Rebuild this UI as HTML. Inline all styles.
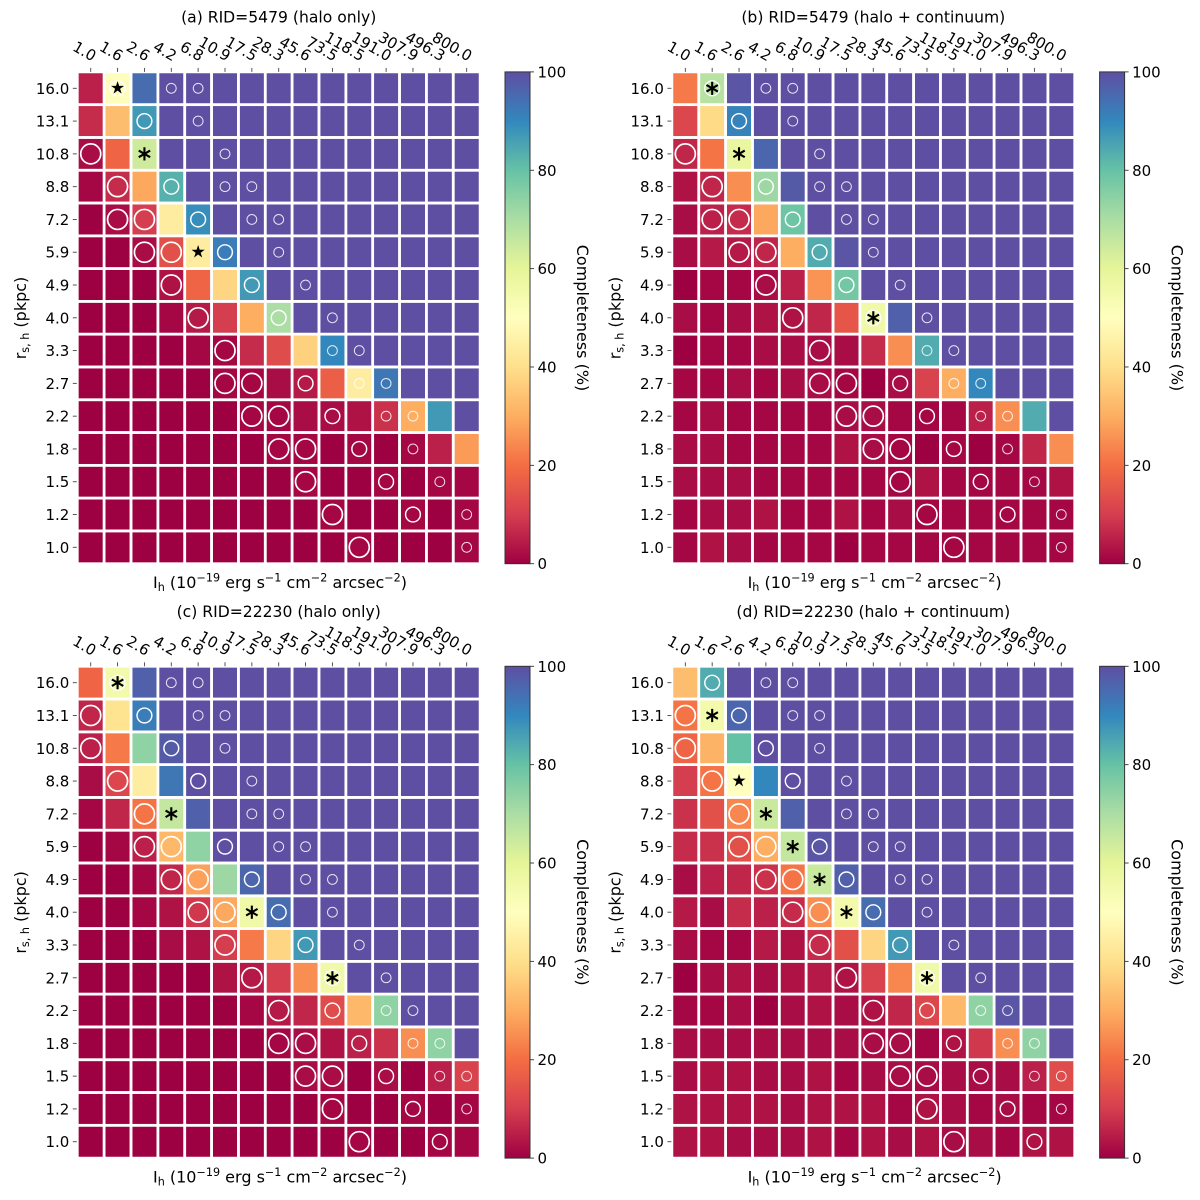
<!DOCTYPE html>
<html lang="en">
<head>
<meta charset="utf-8">
<title>Completeness heatmaps</title>
<style>
html,body{margin:0;padding:0;background:#fff;}
svg{display:block;filter:blur(0.35px);}
text{font-family:"DejaVu Sans","Liberation Sans",sans-serif;fill:#000;}
.tick{font-size:15px;}
.title{font-size:15.6px;text-anchor:middle;}
.axis{font-size:16px;}
</style>
</head>
<body>
<svg id="figure" xmlns="http://www.w3.org/2000/svg" width="1200" height="1200" viewBox="0 0 1200 1200">
  <defs>
    <linearGradient id="spectral-gradient" x1="0" y1="1" x2="0" y2="0"></linearGradient>
  </defs>
  <rect x="0" y="0" width="1200" height="1200" fill="#fff"/>

  <g id="panel-a" transform="translate(0,0)">
    <text class="title" x="278.7" y="22.5">(a) RID=5479 (halo only)</text>
    <text class="axis" x="280" y="588" text-anchor="middle">I<tspan font-size="11.2" dy="3">h</tspan><tspan dy="-3"> (10</tspan><tspan font-size="11.2" dy="-6.5">−19</tspan><tspan dy="6.5"> erg s</tspan><tspan font-size="11.2" dy="-6.5">−1</tspan><tspan dy="6.5"> cm</tspan><tspan font-size="11.2" dy="-6.5">−2</tspan><tspan dy="6.5"> arcsec</tspan><tspan font-size="11.2" dy="-6.5">−2</tspan><tspan dy="6.5">)</tspan></text>
    <text class="axis" transform="translate(26,318) rotate(-90)" text-anchor="middle">r<tspan font-size="11.2" dy="3">s, h</tspan><tspan dy="-3"> (pkpc)</tspan></text>
    <text class="axis" transform="translate(577,318) rotate(90)" text-anchor="middle">Completeness (%)</text>
  </g>

  <g id="panel-b" transform="translate(594.6,0)">
    <text class="title" x="278.7" y="22.5">(b) RID=5479 (halo + continuum)</text>
    <text class="axis" x="280" y="588" text-anchor="middle">I<tspan font-size="11.2" dy="3">h</tspan><tspan dy="-3"> (10</tspan><tspan font-size="11.2" dy="-6.5">−19</tspan><tspan dy="6.5"> erg s</tspan><tspan font-size="11.2" dy="-6.5">−1</tspan><tspan dy="6.5"> cm</tspan><tspan font-size="11.2" dy="-6.5">−2</tspan><tspan dy="6.5"> arcsec</tspan><tspan font-size="11.2" dy="-6.5">−2</tspan><tspan dy="6.5">)</tspan></text>
    <text class="axis" transform="translate(26,318) rotate(-90)" text-anchor="middle">r<tspan font-size="11.2" dy="3">s, h</tspan><tspan dy="-3"> (pkpc)</tspan></text>
    <text class="axis" transform="translate(577,318) rotate(90)" text-anchor="middle">Completeness (%)</text>
  </g>

  <g id="panel-c" transform="translate(0,594.4)">
    <text class="title" x="278.7" y="22.5">(c) RID=22230 (halo only)</text>
    <text class="axis" x="280" y="588" text-anchor="middle">I<tspan font-size="11.2" dy="3">h</tspan><tspan dy="-3"> (10</tspan><tspan font-size="11.2" dy="-6.5">−19</tspan><tspan dy="6.5"> erg s</tspan><tspan font-size="11.2" dy="-6.5">−1</tspan><tspan dy="6.5"> cm</tspan><tspan font-size="11.2" dy="-6.5">−2</tspan><tspan dy="6.5"> arcsec</tspan><tspan font-size="11.2" dy="-6.5">−2</tspan><tspan dy="6.5">)</tspan></text>
    <text class="axis" transform="translate(26,318) rotate(-90)" text-anchor="middle">r<tspan font-size="11.2" dy="3">s, h</tspan><tspan dy="-3"> (pkpc)</tspan></text>
    <text class="axis" transform="translate(577,318) rotate(90)" text-anchor="middle">Completeness (%)</text>
  </g>

  <g id="panel-d" transform="translate(594.6,594.4)">
    <text class="title" x="278.7" y="22.5">(d) RID=22230 (halo + continuum)</text>
    <text class="axis" x="280" y="588" text-anchor="middle">I<tspan font-size="11.2" dy="3">h</tspan><tspan dy="-3"> (10</tspan><tspan font-size="11.2" dy="-6.5">−19</tspan><tspan dy="6.5"> erg s</tspan><tspan font-size="11.2" dy="-6.5">−1</tspan><tspan dy="6.5"> cm</tspan><tspan font-size="11.2" dy="-6.5">−2</tspan><tspan dy="6.5"> arcsec</tspan><tspan font-size="11.2" dy="-6.5">−2</tspan><tspan dy="6.5">)</tspan></text>
    <text class="axis" transform="translate(26,318) rotate(-90)" text-anchor="middle">r<tspan font-size="11.2" dy="3">s, h</tspan><tspan dy="-3"> (pkpc)</tspan></text>
    <text class="axis" transform="translate(577,318) rotate(90)" text-anchor="middle">Completeness (%)</text>
  </g>
</svg>

<script>
const fluxLabels = ['1.0','1.6','2.6','4.2','6.8','10.9','17.5','28.3','45.6','73.5','118.5','191.0','307.9','496.3','800.0'];
const radiusLabels = ['16.0','13.1','10.8','8.8','7.2','5.9','4.9','4.0','3.3','2.7','2.2','1.8','1.5','1.2','1.0'];
const colorbarTicks = [0,20,40,60,80,100];
const spectralStops = ['#9e0142','#d53e4f','#f46d43','#fdae61','#fee08b','#ffffbf','#e6f598','#abdda4','#66c2a5','#3288bd','#5e4fa2'];

const completenessA = [
  [5,51,95,100,100,100,100,100,100,100,100,100,100,100,100],
  [7,33,87,100,100,100,100,100,100,100,100,100,100,100,100],
  [2,18,64,100,100,100,100,100,100,100,100,100,100,100,100],
  [1,7,29,83,100,100,100,100,100,100,100,100,100,100,100],
  [0,2,10,44,89,100,100,100,100,100,100,100,100,100,100],
  [0,0,2,14,44,92,100,100,100,100,100,100,100,100,100],
  [0,0,0,3,18,38,87,100,100,100,100,100,100,100,100],
  [0,0,0,1,4,10,30,70,100,100,100,100,100,100,100],
  [0,0,0,0,1,1,7,13,37,90,100,100,100,100,100],
  [0,0,0,0,0,1,1,2,4,17,44,93,100,100,100],
  [0,0,0,0,0,0,1,1,2,2,3,8,30,87,100],
  [0,0,0,0,0,0,0,1,1,0,1,0,1,5,27],
  [0,0,0,0,0,0,0,0,1,0,0,1,0,1,1],
  [0,0,0,0,0,0,0,0,0,1,0,0,1,0,1],
  [0,0,0,0,0,0,0,0,0,0,1,0,0,0,1]
];
const completenessB = [
  [22,68,99,100,100,100,100,100,100,100,100,100,100,100,100],
  [12,39,91,100,100,100,100,100,100,100,100,100,100,100,100],
  [6,21,58,96,100,100,100,100,100,100,100,100,100,100,100],
  [3,6,25,72,98,100,100,100,100,100,100,100,100,100,100],
  [2,5,7,29,79,100,100,100,100,100,100,100,100,100,100],
  [2,4,4,6,30,84,99,100,100,100,100,100,100,100,100],
  [0,1,1,2,5,26,78,100,100,100,100,100,100,100,100],
  [2,1,2,3,3,6,15,56,97,100,100,100,100,100,100],
  [0,1,1,2,2,2,2,7,25,84,100,100,100,100,100],
  [1,1,2,1,2,2,1,0,2,11,30,90,100,100,100],
  [1,2,1,1,1,1,2,2,1,1,1,5,25,84,100],
  [2,2,1,1,1,1,3,2,1,0,1,0,1,6,25],
  [2,2,2,1,1,1,1,1,1,3,1,1,1,1,3],
  [1,2,2,3,1,1,3,1,2,1,1,1,1,1,1],
  [1,3,2,1,1,1,0,1,1,1,1,1,1,1,1]
];
const completenessC = [
  [18,55,97,100,100,100,100,100,100,100,100,100,100,100,100],
  [6,41,92,100,100,100,100,100,100,100,100,100,100,100,100],
  [5,22,74,98,100,100,100,100,100,100,100,100,100,100,100],
  [2,12,44,93,100,100,100,100,100,100,100,100,100,100,100],
  [1,6,21,66,97,100,100,100,100,100,100,100,100,100,100],
  [0,1,5,32,74,100,100,100,100,100,100,100,100,100,100],
  [0,0,1,6,28,72,96,100,100,100,100,100,100,100,100],
  [0,0,1,3,9,29,56,95,100,100,100,100,100,100,100],
  [0,0,0,2,3,10,22,38,87,100,100,100,100,100,100],
  [0,0,0,0,0,3,4,10,25,56,100,100,100,100,100],
  [0,0,0,0,0,0,1,4,6,13,32,74,100,100,100],
  [0,0,0,0,0,0,0,1,2,3,5,8,25,74,100],
  [0,0,0,0,0,0,0,0,2,2,0,2,0,5,11],
  [0,0,0,0,0,0,0,0,0,1,0,0,1,0,1],
  [0,0,0,0,0,0,0,0,0,0,1,0,0,1,1]
];
const completenessD = [
  [33,84,100,100,100,100,100,100,100,100,100,100,100,100,100],
  [21,55,96,100,100,100,100,100,100,100,100,100,100,100,100],
  [18,31,80,100,100,100,100,100,100,100,100,100,100,100,100],
  [10,21,50,90,100,100,100,100,100,100,100,100,100,100,100],
  [8,14,24,65,97,100,100,100,100,100,100,100,100,100,100],
  [7,8,14,30,66,99,100,100,100,100,100,100,100,100,100],
  [2,5,6,8,21,65,97,100,100,100,100,100,100,100,100],
  [4,2,7,5,7,25,55,95,100,100,100,100,100,100,100],
  [2,1,1,4,3,7,14,38,87,100,100,100,100,100,100],
  [0,2,3,2,3,4,3,11,24,56,100,100,100,100,100],
  [1,1,2,0,2,3,2,3,6,12,32,74,99,100,100],
  [2,2,2,2,2,2,2,2,2,1,3,9,25,74,100],
  [2,3,3,2,2,3,1,2,2,2,2,2,2,5,13],
  [3,3,3,3,2,3,3,3,1,3,2,1,2,1,1],
  [3,3,2,2,2,3,1,3,2,3,2,2,1,3,3]
];

/* [row index, column index] pairs on the categorical grid */
const largeRingsAB = [[2,0],[3,1],[4,1],[4,2],[5,2],[5,3],[6,3],[7,4],[8,5],[9,5],[9,6],[10,6],[10,7],[11,7],[11,8],[12,8],[13,9],[14,10]];
const mediumRingsAB = [[0,1],[1,2],[3,3],[4,4],[5,5],[6,6],[7,7],[9,8],[10,9],[11,10],[12,11],[13,12]];
const smallRingsAB = [[0,3],[0,4],[1,4],[2,5],[3,5],[3,6],[4,6],[4,7],[5,7],[6,8],[7,9],[8,9],[8,10],[9,10],[9,11],[10,11],[10,12],[11,12],[12,13],[13,14],[14,14]];
const largeRingsCD = [[1,0],[2,0],[3,1],[4,2],[5,2],[5,3],[6,3],[6,4],[7,4],[7,5],[8,5],[9,6],[10,7],[11,7],[11,8],[12,8],[12,9],[13,9],[14,10]];
const mediumRingsCD = [[0,1],[1,2],[2,3],[3,4],[5,5],[6,6],[7,7],[8,8],[9,9],[10,9],[11,10],[12,11],[13,12],[14,13]];
const smallRingsCD = [[0,3],[0,4],[1,4],[1,5],[2,5],[3,6],[4,6],[4,7],[5,7],[5,8],[6,8],[6,9],[7,9],[8,10],[9,11],[10,11],[10,12],[11,12],[11,13],[12,13],[12,14],[13,14]];
const starsA = [[0,1],[5,4]];
const starsB = [];
const starsC = [];
const starsD = [[3,2]];
const asterisksA = [[2,2]];
const asterisksB = [[0,1],[2,2],[7,7]];
const asterisksC = [[0,1],[4,3],[7,6],[9,9]];
const asterisksD = [[1,1],[4,3],[5,4],[6,5],[7,6],[9,9]];

const NS = 'http://www.w3.org/2000/svg';
const plotLeft = 77.3, plotRight = 480.1, plotTop = 71.9, plotBottom = 563.7;
const barLeft = 505, barRight = 530;
const cellW = (plotRight - plotLeft) / fluxLabels.length;
const cellH = (plotBottom - plotTop) / radiusLabels.length;

function xEdge(col){ return plotLeft + col * cellW; }
function yEdge(row){ return plotTop + row * cellH; }
function xCenter(col){ return xEdge(col) + cellW / 2; }
function yCenter(row){ return yEdge(row) + cellH / 2; }
function barY(value){ return plotBottom - (value / 100) * (plotBottom - plotTop); }

function hexToRgb(h){ return [1,3,5].map(function(i){ return parseInt(h.substr(i,2),16); }); }
function spectralColor(value){
  const t = Math.max(0, Math.min(100, value)) / 100 * (spectralStops.length - 1);
  const i = Math.min(Math.floor(t), spectralStops.length - 2);
  const f = t - i;
  const a = hexToRgb(spectralStops[i]);
  const b = hexToRgb(spectralStops[i + 1]);
  return 'rgb(' + a.map(function(c, k){ return Math.round(c + (b[k] - c) * f); }).join(',') + ')';
}
function make(tag, attrs, parent){
  const el = document.createElementNS(NS, tag);
  Object.keys(attrs).forEach(function(k){ el.setAttribute(k, attrs[k]); });
  parent.appendChild(el);
  return el;
}

const gradient = document.getElementById('spectral-gradient');
spectralStops.forEach(function(color, i){
  const stop = make('stop', {offset: (i / (spectralStops.length - 1)), 'stop-color': color}, gradient);
  
  
});

function drawRings(parent, list, radius, width, opacity, name){
  list.forEach(function(p){
    const ring = make('circle', {cx: xCenter(p[1]), cy: yCenter(p[0]), r: radius, fill: 'none', stroke: '#fff', 'stroke-width': width, 'stroke-opacity': opacity}, parent);
    
    
  });
}
function starPoints(cx, cy, outer){
  const inner = outer * 0.382;
  const pts = [];
  for (let i = 0; i < 10; i++){
    const r = i % 2 ? inner : outer;
    const a = -Math.PI / 2 + i * Math.PI / 5;
    pts.push((cx + r * Math.cos(a)).toFixed(2) + ',' + (cy + r * Math.sin(a)).toFixed(2));
  }
  return pts.join(' ');
}

function drawPanel(panelId, values, largeRings, mediumRings, smallRings, stars, asterisks){
  const panel = document.getElementById(panelId);

  const grid = make('g', {}, panel);
  
  
  values.forEach(function(rowValues, row){
    rowValues.forEach(function(value, col){
      const cell = make('rect', {x: xEdge(col), y: yEdge(row), width: cellW + 0.2, height: cellH + 0.2, fill: spectralColor(value)}, grid);
      
      
    });
  });
  values.forEach(function(rowValues, row){
    rowValues.forEach(function(value, col){
      const edge = make('rect', {x: xEdge(col), y: yEdge(row), width: cellW, height: cellH, fill: 'none', stroke: '#fff', 'stroke-width': 2.7}, grid);
      
      
    });
  });

  drawRings(panel, largeRings, 10, 1.7, 1, 'large-ring-marker');
  drawRings(panel, mediumRings, 7.4, 1.45, 1, 'medium-ring-marker');
  drawRings(panel, smallRings, 4.9, 1, 0.85, 'small-ring-marker');

  stars.forEach(function(p){
    const star = make('polygon', {points: starPoints(xCenter(p[1]), yCenter(p[0]) - 0.3, 6.9), fill: '#000'}, panel);
    
    
  });
  asterisks.forEach(function(p){
    const mark = make('g', {stroke: '#000', 'stroke-width': 2.1, 'stroke-linecap': 'butt'}, panel);
    
    
    const cx = xCenter(p[1]);
    const cy = yCenter(p[0]);
    [90, 30, 150].forEach(function(deg){
      const a = deg * Math.PI / 180;
      const arm = make('line', {x1: cx - 6.6 * Math.cos(a), y1: cy - 6.6 * Math.sin(a), x2: cx + 6.6 * Math.cos(a), y2: cy + 6.6 * Math.sin(a)}, mark);
      
      
    });
  });

  fluxLabels.forEach(function(label, col){
    const x = xCenter(col);
    const tick = make('line', {x1: x, x2: x, y1: plotTop - 4, y2: plotTop, stroke: '#444', 'stroke-width': 0.9}, panel);
    
    
    const text = make('text', {class: 'tick', transform: 'translate(' + x + ',' + (plotTop - 7.6) + ') rotate(30)', 'text-anchor': 'end', y: -3}, panel);
    text.textContent = label;
    
    
  });
  radiusLabels.forEach(function(label, row){
    const y = yCenter(row);
    const tick = make('line', {x1: plotLeft - 4.5, x2: plotLeft - 0.5, y1: y, y2: y, stroke: '#444', 'stroke-width': 0.9}, panel);
    
    
    const text = make('text', {class: 'tick', x: plotLeft - 8, y: y + 5.5, 'text-anchor': 'end'}, panel);
    text.textContent = label;
    
    
  });

  const bar = make('rect', {x: barLeft, y: plotTop, width: barRight - barLeft, height: plotBottom - plotTop, fill: 'url(#spectral-gradient)', stroke: '#333', 'stroke-width': 1}, panel);
  
  
  colorbarTicks.forEach(function(value){
    const y = barY(value);
    const tick = make('line', {x1: barRight, x2: barRight + 4, y1: y, y2: y, stroke: '#333', 'stroke-width': 0.9}, panel);
    
    
    const text = make('text', {class: 'tick', x: barRight + 7.5, y: y + 5.5}, panel);
    text.textContent = String(value);
    
    
  });
}

drawPanel('panel-a', completenessA, largeRingsAB, mediumRingsAB, smallRingsAB, starsA, asterisksA);
drawPanel('panel-b', completenessB, largeRingsAB, mediumRingsAB, smallRingsAB, starsB, asterisksB);
drawPanel('panel-c', completenessC, largeRingsCD, mediumRingsCD, smallRingsCD, starsC, asterisksC);
drawPanel('panel-d', completenessD, largeRingsCD, mediumRingsCD, smallRingsCD, starsD, asterisksD);
</script>
</body>
</html>
